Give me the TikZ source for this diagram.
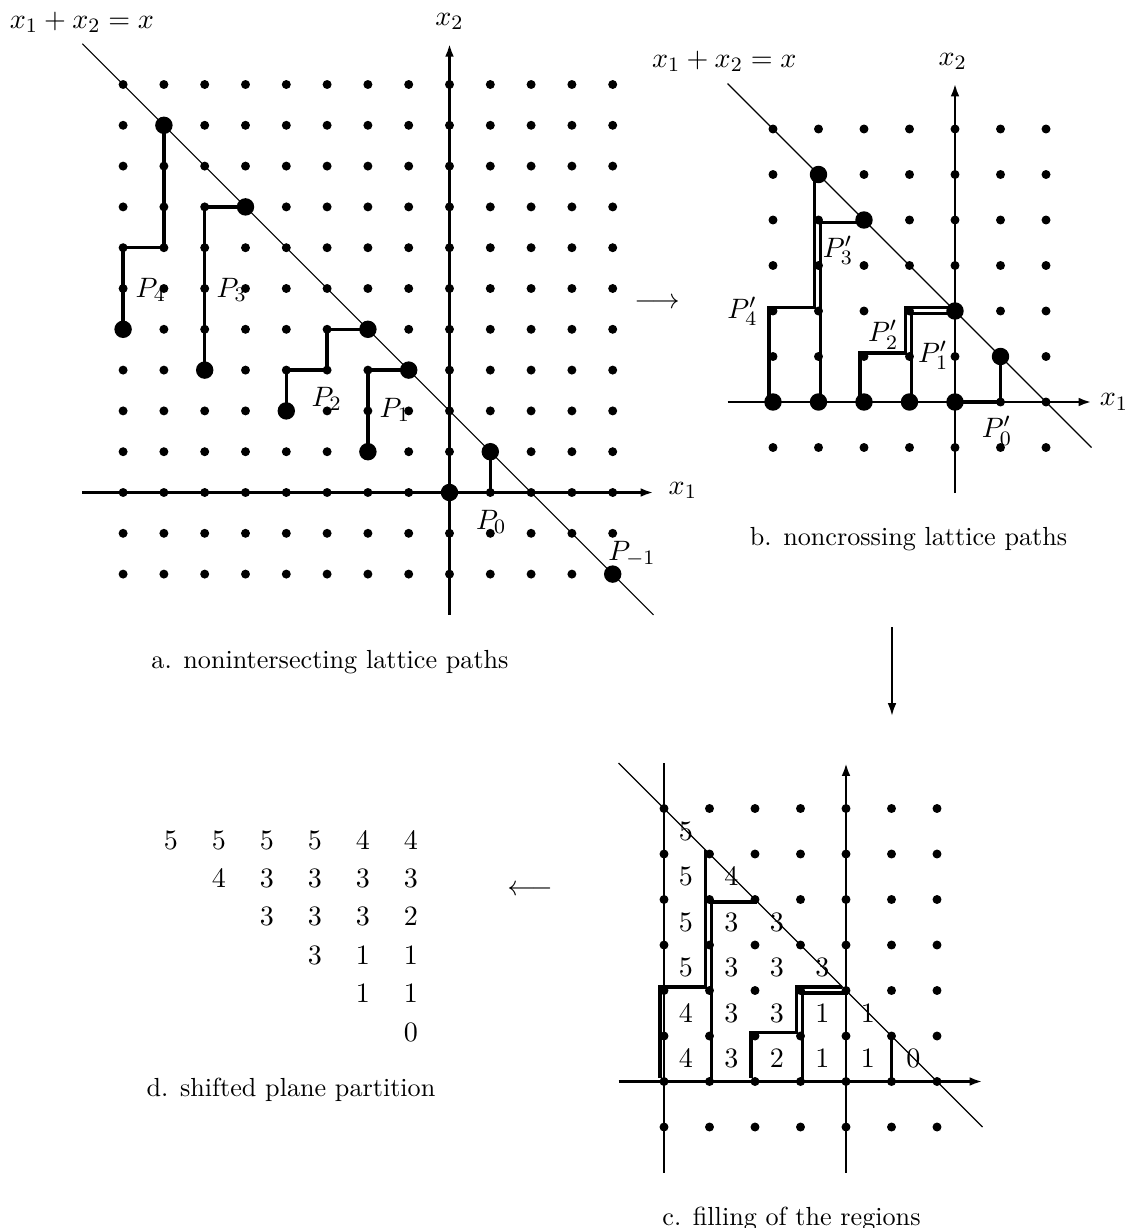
\documentclass[tikz,border=0pt]{standalone}
\usetikzlibrary{arrows.meta}
\tikzset{
  axisarr/.style={line width=1.05pt,-{Latex[length=5pt,width=3.4pt]}},
  axisline/.style={line width=1.05pt},
  diagline/.style={line width=0.45pt},
  lpath/.style={line width=1.37pt},
  evensh/.style={shift={(-1.5pt,1.4pt)}},
  oddsh/.style={shift={(0.7pt,-0.9pt)}},
  lab/.style={font=\fontsize{11}{13}\selectfont,inner sep=0pt},
  capt/.style={font=\fontsize{10.2}{12}\selectfont,inner sep=0pt},
}
\begin{document}
\begin{tikzpicture}[x=0.39pt,y=-0.39pt]
\useasboundingbox (0,0) rectangle (1128,1228);

% ---------------- panel a ----------------
\begin{scope}[shift={(449.5,492.5)},x=15.912pt,y=15.912pt]
  \foreach \i in {-8,...,4}{\foreach \j in {-2,...,10}{\fill (\i,\j) circle (1.75pt);}}
  \draw[diagline] (-9,11) -- (5,-3);
  \draw[axisarr] (-9,0) -- (5,0);
  \draw[axisarr] (0,-3) -- (0,11);
  \draw[lpath] (-8,4) -- (-8,6) -- (-7,6) -- (-7,9);
  \draw[lpath] (-6,3) -- (-6,7) -- (-5,7);
  \draw[lpath] (-4,2) -- (-4,3) -- (-3,3) -- (-3,4) -- (-2,4);
  \draw[lpath] (-2,1) -- (-2,3) -- (-1,3);
  \draw[lpath] (0,0) -- (1,0) -- (1,1);
  \foreach \p in {(-8,4),(-7,9),(-6,3),(-5,7),(-4,2),(-2,4),(-2,1),(-1,3),(0,0),(1,1),(4,-2)}{\fill \p circle (3.4pt);}
  \node[lab] (aP4) at (-7.32,4.96) {$P_4$};
  \node[lab] (aP3) at (-5.34,4.96) {$P_3$};
  \node[lab] (aP2) at (-3.01,2.29) {$P_2$};
  \node[lab] (aP1) at (-1.34,2.02) {$P_1$};
  \node[lab] (aP0) at (1.02,-0.72) {$P_0$};
  \node[lab] (aPm) at (4.47,-1.5) {$P_{-1}$};
  \node[lab] (aline) at (-9.01,11.52) {$x_1+x_2=x$};
  \node[lab] (ax2) at (0,11.54) {$x_2$};
  \node[lab,anchor=west] (ax1) at (5.36,0.05) {$x_1$};
\end{scope}
\node[capt] (capa) at (330,662) {a. nonintersecting lattice paths};

% ---------------- panel b ----------------
\begin{scope}[shift={(955,402)},x=17.745pt,y=17.745pt]
  \foreach \i in {-4,...,2}{\foreach \j in {-1,...,6}{\fill (\i,\j) circle (1.75pt);}}
  \draw[diagline] (-5,7) -- (3,-1);
  \draw[axisarr] (-5,0) -- (3,0);
  \draw[axisarr] (0,-2) -- (0,7);
  \draw[lpath,evensh] (-4,0) -- (-4,2) -- (-3,2) -- (-3,5);
  \draw[lpath,oddsh] (-3,0) -- (-3,4) -- (-2,4);
  \draw[lpath,evensh] (-2,0) -- (-2,1) -- (-1,1) -- (-1,2) -- (0,2);
  \draw[lpath,oddsh] (-1,0) -- (-1,2) -- (0,2);
  \draw[lpath] (0,0) -- (1,0) -- (1,1);
  \foreach \p in {(-4,0),(-3,0),(-2,0),(-1,0),(0,0),(-3,5),(-2,4),(0,2),(1,1)}{\fill \p circle (3.4pt);}
  \node[lab] (bP4) at (-4.67,1.99) {$P'_4$};
  \node[lab] (bP3) at (-2.57,3.33) {$P'_3$};
  \node[lab] (bP2) at (-1.58,1.48) {$P'_2$};
  \node[lab] (bP1) at (-0.48,1.02) {$P'_1$};
  \node[lab] (bP0) at (0.92,-0.63) {$P'_0$};
  \node[lab] (bline) at (-5.07,7.48) {$x_1+x_2=x$};
  \node[lab] (bx2) at (-0.05,7.48) {$x_2$};
  \node[lab,anchor=west] (bx1) at (3.17,0) {$x_1$};
\end{scope}
\node[capt] (capb) at (908.5,539) {b. noncrossing lattice paths};

% ---------------- panel c ----------------
\begin{scope}[shift={(846,1081.5)},x=17.745pt,y=17.745pt]
  \foreach \i in {-4,...,2}{\foreach \j in {-1,...,6}{\fill (\i,\j) circle (1.75pt);}}
  \draw[diagline] (-5,7) -- (3,-1);
  \draw[axisarr] (-5,0) -- (3,0);
  \draw[axisarr] (0,-2) -- (0,7);
  \draw[axisline] (-4,-2) -- (-4,7);
  \draw[lpath,evensh] (-4,0) -- (-4,2) -- (-3,2) -- (-3,5);
  \draw[lpath,oddsh] (-3,0) -- (-3,4) -- (-2,4);
  \draw[lpath,evensh] (-2,0) -- (-2,1) -- (-1,1) -- (-1,2) -- (0,2);
  \draw[lpath,oddsh] (-1,0) -- (-1,2) -- (0,2);
  \draw[lpath] (0,0) -- (1,0) -- (1,1);
  \foreach \i/\j/\v [count=\k] in {-4/5/5, -4/4/5,-3/4/4, -4/3/5,-3/3/3,-2/3/3,
      -4/2/5,-3/2/3,-2/2/3,-1/2/3, -4/1/4,-3/1/3,-2/1/3,-1/1/1,0/1/1,
      -4/0/4,-3/0/3,-2/0/2,-1/0/1,0/0/1,1/0/0}{
    \node[lab] (cn\k) at (\i+0.48,\j+0.5) {$\v$};}
\end{scope}
\node[capt] (capc) at (791.5,1219) {c. filling of the regions};

% ---------------- panel d ----------------
\foreach \r/\c/\v [count=\k] in {0/0/5,0/1/5,0/2/5,0/3/5,0/4/4,0/5/4,
    1/1/4,1/2/3,1/3/3,1/4/3,1/5/3,
    2/2/3,2/3/3,2/4/3,2/5/2,
    3/3/3,3/4/1,3/5/1,
    4/4/1,4/5/1,
    5/5/0}{
  \node[lab] (dn\k) at (171+48*\c,840+38.4*\r) {$\v$};}
\node[capt] (capd) at (291,1090) {d. shifted plane partition};

% ---------------- arrows between panels ----------------
\node[lab] (arrab) at (657,303) {$\longrightarrow$};
\node[lab] (arrcd) at (530,890) {$\longleftarrow$};
\coordinate (bctop) at (892,627);
\coordinate (bcbot) at (892,716);
\draw[line width=0.85pt,-{Latex[length=5pt,width=3.4pt]}] (bctop) -- (bcbot);
\end{tikzpicture}
\end{document}
